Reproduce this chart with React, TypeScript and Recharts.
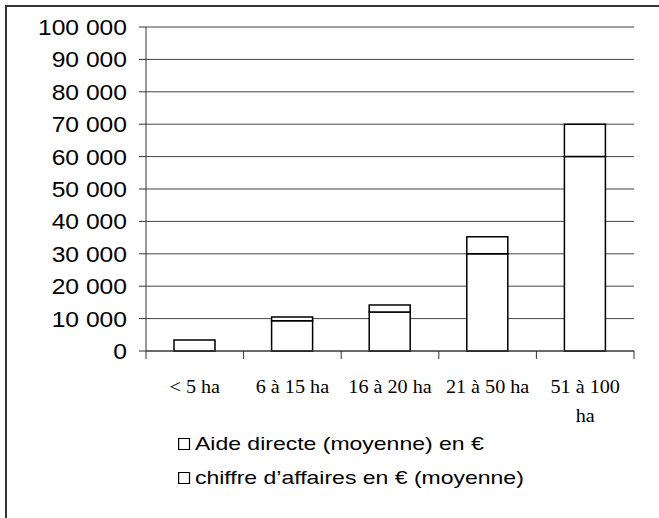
import React from "react";
import { BarChart, Bar, XAxis, YAxis, CartesianGrid, Legend } from "recharts";

const categories = ["< 5 ha", "6 à 15 ha", "16 à 20 ha", "21 à 50 ha", "51 à 100 ha"];
const aideDirecte = [0, 9300, 12000, 30000, 60000];
const chiffreAffaires = [3400, 1200, 2200, 5300, 10000];
const yTicks = [0, 10000, 20000, 30000, 40000, 50000, 60000, 70000, 80000, 90000, 100000];
const seriesNames = ["Aide directe (moyenne) en €", "chiffre d’affaires en € (moyenne)"];

const data = categories.map((c, i) => ({
  cat: c,
  aide: aideDirecte[i],
  ca: chiffreAffaires[i],
}));

const W = 659;
const H = 518;
const X_AXIS_H = 30;
const M = { top: 27, right: 25, bottom: 167 - X_AXIS_H, left: 0 };
const Y_AXIS_W = 146;
const BAND = (W - M.right - M.left - Y_AXIS_W) / categories.length;

const fmt = (v: number) => {
  const s = String(v);
  return s.replace(/\B(?=(\d{3})+(?!\d))/g, " ");
};

const YTick = (props: any) => {
  const { x, y, payload } = props;
  return (
    <g transform={`translate(${x},${y})`}>
      <text
        transform="scale(1.12,1)"
        textAnchor="end"
        dy="0.36em"
        fontFamily="'Liberation Sans', Arial, sans-serif"
        fontSize={22}
        fill="#000"
      >
        {fmt(payload.value)}
      </text>
    </g>
  );
};

const XTick = (props: any) => {
  const { x, y, payload, index } = props;
  const label: string = payload.value;
  let lines: string[] = [label];
  if (label.length > 10) {
    const k = label.lastIndexOf(" ");
    lines = [label.slice(0, k), label.slice(k + 1)];
  }
  return (
    <g>
      <line x1={x - BAND / 2} x2={x - BAND / 2} y1={y} y2={y + 8} stroke="#333" strokeWidth={1} />
      {index === categories.length - 1 && (
        <line x1={x + BAND / 2} x2={x + BAND / 2} y1={y} y2={y + 8} stroke="#333" strokeWidth={1} />
      )}
      <g transform={`translate(${x},${y + 42})`}>
        <text
          transform="scale(1.12,1)"
          textAnchor="middle"
          fontFamily="'Liberation Serif', 'Times New Roman', serif"
          fontSize={18}
          fill="#000"
        >
          {lines.map((l, i) => (
            <tspan key={i} x={0} dy={i === 0 ? 0 : 29}>
              {l}
            </tspan>
          ))}
        </text>
      </g>
    </g>
  );
};

const LegendContent = () => (
  <div style={{ fontFamily: "'Liberation Sans', Arial, sans-serif", fontSize: 19, color: "#000" }}>
    {seriesNames.map((n, i) => (
      <div
        key={i}
        style={{
          display: "flex",
          alignItems: "center",
          height: 34,
          transform: "scaleX(1.21)",
          transformOrigin: "left center",
          whiteSpace: "nowrap",
        }}
      >
        <span
          style={{
            display: "inline-block",
            width: 8,
            height: 10,
            border: "1.5px solid #000",
            marginRight: 4,
            background: "#fff",
          }}
        />
        <span>{n}</span>
      </div>
    ))}
  </div>
);

export default function App() {
  return (
    <div style={{ position: "fixed", left: 0, top: 0, width: W, height: H, overflow: "hidden", background: "#fff" }}>
      <div
        style={{
          position: "absolute",
          left: 5,
          top: 5,
          width: 800,
          height: 800,
          borderTop: "2px solid #333",
          borderLeft: "2px solid #333",
        }}
      />
      <div style={{ position: "absolute", left: 0, top: 0 }}>
        <BarChart width={W} height={H} data={data} margin={M}>
          <CartesianGrid vertical={false} stroke="#444" strokeWidth={1} />
          <XAxis
            dataKey="cat"
            height={X_AXIS_H}
            tick={<XTick />}
            tickLine={false}
            tickSize={0}
            tickMargin={0}
            axisLine={{ stroke: "#333", strokeWidth: 1 }}
            interval={0}
          />
          <YAxis
            width={Y_AXIS_W}
            domain={[0, 100000]}
            ticks={yTicks}
            tick={<YTick />}
            tickSize={7}
            tickMargin={12}
            tickLine={{ stroke: "#333" }}
            axisLine={{ stroke: "#333", strokeWidth: 1 }}
            interval={0}
          />
          <YAxis
            yAxisId="right"
            orientation="right"
            width={0}
            tick={false}
            tickLine={false}
            axisLine={{ stroke: "#999", strokeWidth: 2 }}
          />
          <Legend
            content={<LegendContent />}
            layout="horizontal"
            verticalAlign="middle"
            align="center"
            wrapperStyle={{ left: 178, top: 427, width: "auto" }}
          />
          <Bar
            dataKey="aide"
            name={seriesNames[0]}
            stackId="s"
            fill="#fff"
            stroke="#000"
            strokeWidth={1.5}
            barSize={41}
            isAnimationActive={false}
          />
          <Bar
            dataKey="ca"
            name={seriesNames[1]}
            stackId="s"
            fill="#fff"
            stroke="#000"
            strokeWidth={1.5}
            barSize={41}
            isAnimationActive={false}
          />
        </BarChart>
      </div>
    </div>
  );
}
